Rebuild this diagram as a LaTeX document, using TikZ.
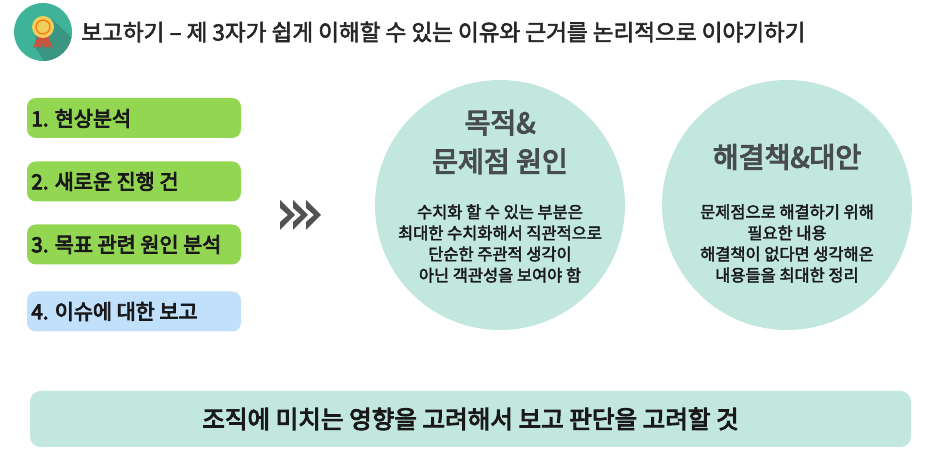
\documentclass[tikz,border=0pt]{standalone}
\usepackage{fontspec}
\setmainfont{Noto Sans CJK KR}
\newfontfamily\medfont[FakeBold=2.5]{Noto Sans CJK KR}
\newfontfamily\itemfont[FakeBold=4]{Noto Sans CJK KR}
\usepackage{xcolor}
\usepackage{tikz}
\usetikzlibrary{calc,shapes,positioning}

\definecolor{mint}{HTML}{C1E7DE}
\definecolor{leaf}{HTML}{93D652}
\definecolor{sky}{HTML}{C0E0FB}
\definecolor{teal1}{HTML}{3FB39A}
\definecolor{teal2}{HTML}{3A9583}
\definecolor{ribbon}{HTML}{C9543F}
\definecolor{seal}{HTML}{F2CE5E}
\definecolor{darktxt}{HTML}{474C4C}

\tikzset{
  itembox/.style={rounded corners=5pt, minimum width=214*0.02cm, minimum height=40*0.02cm, inner sep=0pt},
  itemtext/.style={anchor=west, inner sep=0pt, text=black!90, font=\fontsize{11.8pt}{14pt}\selectfont\itemfont},
  bigcircle/.style={circle, fill=mint, minimum size=250*0.02cm, inner sep=0pt},
  headtext/.style={align=center, text=darktxt, font=\fontsize{16pt}{22pt}\selectfont\itemfont},
  bodytext/.style={align=center, text=black!90, font=\fontsize{9.35pt}{12pt}\selectfont\medfont}
}

\begin{document}
\begin{tikzpicture}[x=0.02cm,y=-0.02cm]

\useasboundingbox (0,0) rectangle (937,469);
\fill[white] (0,0) rectangle (937,469);

%icon
\node[circle, fill=teal1, minimum size=58*0.02cm, inner sep=0pt] (icon) at (43,32) {};
\begin{scope}
\clip (43,32) circle (29);
\fill[teal2] (35,30) -- (52,19) -- (85,50) -- (85,75) -- (52,75) -- (36,48) -- cycle;
\end{scope}
\fill[ribbon] (38,36) -- (33,48) -- (37,46.5) -- (41,48) -- (45,38) -- cycle;
\fill[ribbon] (48,36) -- (53,48) -- (49,46.5) -- (45,48) -- (41,38) -- cycle;
\node[circle, fill=seal, minimum size=22*0.02cm, inner sep=0pt] (sealout) at (43,27) {};
\node[circle, draw=orange!90!red, line width=0.7pt, fill=seal, minimum size=14*0.02cm, inner sep=0pt] (sealin) at (43,27) {};

\node[anchor=west, inner sep=0pt, text=black!85, font=\fontsize{12.85pt}{15pt}\selectfont\medfont] (title) at (81,32) {보고하기 – 제 3자가 쉽게 이해할 수 있는 이유와 근거를 논리적으로 이야기하기};

%left list
\node[itembox, fill=leaf] (item1) at (134,118) {};
\node[itembox, fill=leaf] (item2) at (134,181.5) {};
\node[itembox, fill=leaf] (item3) at (134,244.5) {};
\node[itembox, fill=sky] (item4) at (134,311.5) {};

\node[itemtext] (text1) at (31,118.5) {1. 현상분석};
\node[itemtext] (text2) at (31,181.5) {2. 새로운 진행 건};
\node[itemtext] (text3) at (31,244.5) {3. 목표 관련 원인 분석};
\node[itemtext] (text4) at (31,311.5) {4. 이슈에 대한 보고};

%chevrons
\foreach \x in {0,13,26}
  \fill[black!68] (280+\x,200) -- (295+\x,215) -- (280+\x,230) -- (280+\x,222) -- (288+\x,215) -- (280+\x,208) -- cycle;

%circles
\node[bigcircle] (goal) at (500,205) {};
\node[bigcircle] (plan) at (787,205) {};

\node[headtext] (goalhead) at (500,142) {목적\&\\문제점 원인};
\node[bodytext] (goalbody) at (500,243.5) {수치화 할 수 있는 부분은\\최대한 수치화해서 직관적으로\\단순한 주관적 생각이\\아닌 객관성을 보여야 함};

\node[headtext] (planhead) at (787,157) {해결책\&대안};
\node[bodytext] (planbody) at (787,243.5) {문제점으로 해결하기 위해\\필요한 내용\\해결책이 없다면 생각해온\\내용들을 최대한 정리};

%bottom bar
\node[rounded corners=6pt, fill=mint, minimum width=881*0.02cm, minimum height=56*0.02cm, inner sep=0pt, font=\fontsize{14pt}{17pt}\selectfont\itemfont, text=black!90] (bottom) at (470.5,419) {조직에 미치는 영향을 고려해서 보고 판단을 고려할 것};

\end{tikzpicture}
\end{document}
